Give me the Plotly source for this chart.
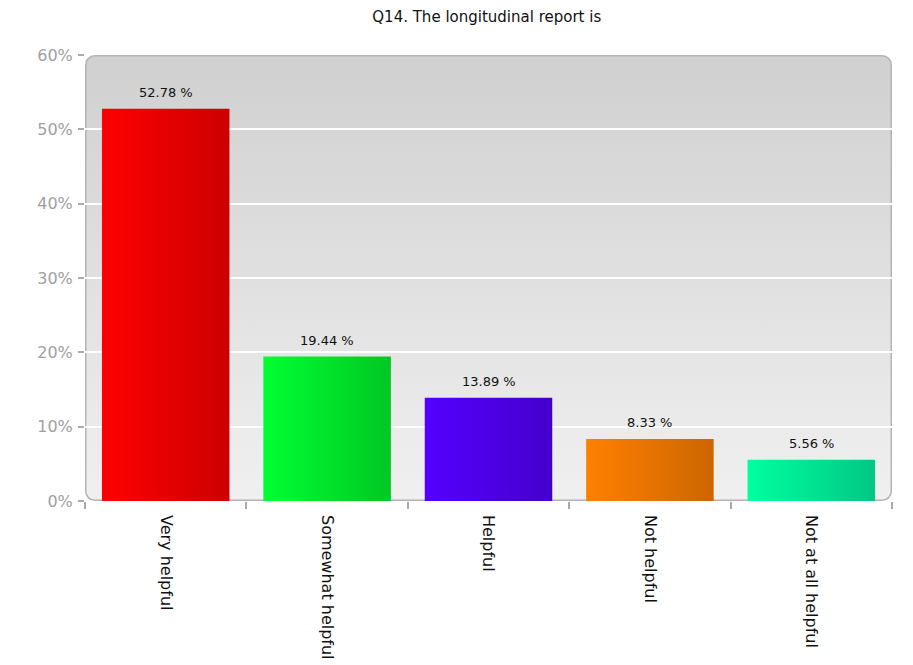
import base64
import plotly.graph_objects as go

title = "Q14. The longitudinal report is"
categories = ["Very helpful", "Somewhat helpful", "Helpful", "Not helpful", "Not at all helpful"]
values = [52.78, 19.44, 13.89, 8.33, 5.56]
labels = ["52.78 %", "19.44 %", "13.89 %", "8.33 %", "5.56 %"]
y_ticks = [0, 10, 20, 30, 40, 50, 60]
y_ticktext = ["0%", "10%", "20%", "30%", "40%", "50%", "60%"]

color_light = ["#ff0000", "#00ff33", "#5500ff", "#ff8000", "#00ffa0"]
color_dark = ["#cc0000", "#00c822", "#4400cc", "#cc6600", "#00c884"]

FONT = "DejaVu Sans, Verdana, sans-serif"
W, H = 905, 657
ml, mr, mt, mb = 77, 21, 47, 164
pw, ph = W - ml - mr, H - mt - mb

svg = f'''<svg xmlns="http://www.w3.org/2000/svg" width="{pw}" height="{ph}" viewBox="0 0 {pw} {ph}" preserveAspectRatio="none">
<defs><linearGradient id="g" x1="0" y1="0" x2="0" y2="1">
<stop offset="0" stop-color="#d0d0d0"/><stop offset="1" stop-color="#f0f0f0"/></linearGradient></defs>
<rect x="0.75" y="0.75" width="{pw-1.5}" height="{ph-1.5}" rx="9" ry="9" fill="url(#g)" stroke="#b4b4b4" stroke-width="1.5"/>
</svg>'''
src = "data:image/svg+xml;base64," + base64.b64encode(svg.encode()).decode()

fig = go.Figure()
hw = 0.395
for i, (v, c1, c2) in enumerate(zip(values, color_light, color_dark)):
    fig.add_trace(go.Scatter(
        x=[i - hw, i + hw, i + hw, i - hw, i - hw],
        y=[0, 0, v, v, 0],
        mode="lines", line=dict(width=0), fill="toself",
        fillgradient=dict(type="horizontal", colorscale=[[0, c1], [1, c2]]),
        hoverinfo="skip", showlegend=False,
    ))
    fig.add_annotation(x=i, y=v, text=labels[i], showarrow=False, yanchor="bottom",
                       yshift=7, font=dict(family=FONT, size=13, color="#111"))

fig.add_layout_image(dict(source=src, xref="x domain", yref="y domain", x=0, y=1,
                          sizex=1, sizey=1, xanchor="left", yanchor="top",
                          sizing="stretch", layer="below"))

fig.update_layout(
    width=W, height=H,
    margin=dict(l=ml, r=mr, t=mt, b=mb, autoexpand=False),
    paper_bgcolor="white", plot_bgcolor="rgba(0,0,0,0)",
    title=dict(text=title, x=0.529, xanchor="center", y=1 - 9 / H, yanchor="middle",
               font=dict(family=FONT, size=15, color="#111")),
    font=dict(family=FONT),
)
fig.update_xaxes(
    range=[-0.5, 4.5], tickvals=list(range(len(categories))), ticktext=categories,
    tickangle=90, ticks="", showgrid=False, zeroline=False, showline=False,
    tickfont=dict(family=FONT, size=16, color="#111"), ticklabelstandoff=13,
    minor=dict(tickmode="array", tickvals=[i - 0.5 for i in range(len(categories) + 1)],
               ticks="outside", ticklen=7, tickcolor="#aaaaaa", tickwidth=1.5, showgrid=False),
    automargin=False, fixedrange=True,
)
fig.update_yaxes(
    range=[0, 60], tickvals=y_ticks, ticktext=y_ticktext,
    ticks="outside", ticklen=6, tickcolor="#aaaaaa", tickwidth=1.5,
    tickfont=dict(family=FONT, size=16, color="#a0a0a0"), ticklabelstandoff=2,
    showgrid=True, gridcolor="white", gridwidth=1.5, zeroline=False, showline=False,
    automargin=False, fixedrange=True,
)
fig.write_html("out.html")
